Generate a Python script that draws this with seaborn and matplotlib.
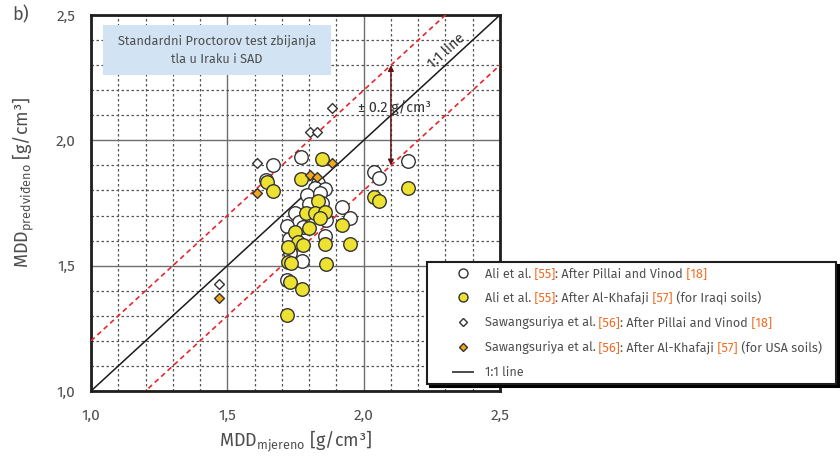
import numpy as np
import pandas as pd
import matplotlib
matplotlib.use("Agg")
import matplotlib.pyplot as plt
import seaborn as sns
from matplotlib.lines import Line2D
from matplotlib.patches import Rectangle

# Ali et al. [55] - after Pillai and Vinod [18] (open circles)
ali_pv_x = [1.667, 1.771, 2.038, 2.056, 2.162, 1.642, 1.834, 1.823, 1.859, 1.791, 1.840, 1.798, 1.848,
            1.748, 1.920, 1.950, 1.763, 1.720, 1.779, 1.862, 1.725, 1.859, 1.730, 1.775, 1.720]
ali_pv_y = [1.901, 1.932, 1.872, 1.848, 1.919, 1.842, 1.831, 1.809, 1.806, 1.782, 1.789, 1.746, 1.749,
            1.711, 1.735, 1.691, 1.675, 1.658, 1.653, 1.682, 1.606, 1.618, 1.552, 1.520, 1.443]

# Ali et al. [55] - after Al-Khafaji [57] (yellow circles)
ali_ak_x = [1.848, 1.644, 1.667, 1.771, 1.832, 1.788, 1.823, 1.859, 1.840, 1.798, 1.748, 1.760, 1.776,
            1.722, 1.859, 1.920, 1.950, 1.721, 1.735, 1.861, 1.730, 1.774, 1.718, 2.162, 2.038, 2.056]
ali_ak_y = [1.924, 1.834, 1.799, 1.844, 1.759, 1.709, 1.709, 1.715, 1.689, 1.649, 1.635, 1.596, 1.581,
            1.576, 1.586, 1.662, 1.585, 1.513, 1.509, 1.507, 1.436, 1.407, 1.302, 1.811, 1.773, 1.758]

# Sawangsuriya et al. [56] (diamonds)
saw_pv_x = [1.884, 1.803, 1.829, 1.609, 1.468]
saw_pv_y = [2.129, 2.033, 2.033, 1.909, 1.427]
saw_ak_x = [1.884, 1.803, 1.829, 1.609, 1.469]
saw_ak_y = [1.909, 1.862, 1.854, 1.790, 1.371]

ticks = [1.0, 1.5, 2.0, 2.5]
tick_labels = ["1,0", "1,5", "2,0", "2,5"]
band = 0.2

legend_parts = [
    [("Ali et al.", None), (" [55]", "o"), (": After Pillai and Vinod", None), (" [18]", "o")],
    [("Ali et al.", None), (" [55]", "o"), (": After Al-Khafaji", None), (" [57]", "o"), (" (for Iraqi soils)", None)],
    [("Sawangsuriya et al.", None), (" [56]", "o"), (": After Pillai and Vinod", None), (" [18]", "o")],
    [("Sawangsuriya et al.", None), (" [56]", "o"), (": After Al-Khafaji", None), (" [57]", "o"), (" (for USA soils)", None)],
    [("1:1 line", None)],
]

sns.set_style("white")
plt.rcParams["font.family"] = ["Fira Sans", "DejaVu Sans"]
plt.rcParams["mathtext.fontset"] = "custom"
plt.rcParams["mathtext.rm"] = "Fira Sans"

TXT = "#4d4d4d"
ORANGE = "#f26b21"
YELLOW = "#ede232"
DORANGE = "#f0a81c"
EDGE = "#333333"

fig = plt.figure(figsize=(8.4, 4.61), dpi=100)
ax = fig.add_axes([91 / 840, 70 / 461, 409 / 840, 376 / 461])

df1 = pd.DataFrame({"x": ali_pv_x, "y": ali_pv_y})
df2 = pd.DataFrame({"x": ali_ak_x, "y": ali_ak_y})
df3 = pd.DataFrame({"x": saw_pv_x, "y": saw_pv_y})
df4 = pd.DataFrame({"x": saw_ak_x, "y": saw_ak_y})

sns.scatterplot(data=df1, x="x", y="y", ax=ax, marker="o", s=95, color="white",
                edgecolor=EDGE, linewidth=1.0, zorder=4, legend=False)
sns.scatterplot(data=df2, x="x", y="y", ax=ax, marker="o", s=95, color=YELLOW,
                edgecolor=EDGE, linewidth=1.0, zorder=5, legend=False)
sns.scatterplot(data=df3, x="x", y="y", ax=ax, marker="D", s=25, color="white",
                edgecolor=EDGE, linewidth=1.0, zorder=6, legend=False)
sns.scatterplot(data=df4, x="x", y="y", ax=ax, marker="D", s=25, color=DORANGE,
                edgecolor=EDGE, linewidth=1.0, zorder=6, legend=False)

diag = np.array([ticks[0], ticks[-1]])
ax.plot(diag, diag, color="#1a1a1a", lw=1.1, zorder=3)
ax.plot(diag, diag + band, color="#e8262a", lw=1.2, ls=(0, (3, 2.2)), zorder=3)
ax.plot(diag, diag - band, color="#e8262a", lw=1.2, ls=(0, (3, 2.2)), zorder=3)

ax.annotate("", xy=(2.1, 2.1 + band), xytext=(2.1, 2.1 - band),
            arrowprops=dict(arrowstyle="<|-|>", color="#5c1414", lw=1.1,
                            mutation_scale=8, shrinkA=0, shrinkB=0), zorder=7)
ax.text(1.98, 2.13, "± 0.2 g/cm³", fontsize=10.3, color="#333333", va="center", ha="left", zorder=7)
ax.text(2.322, 2.334, "1:1 line", fontsize=10.3, color="#333333", rotation=45,
        transform_rotates_text=True, rotation_mode="anchor", ha="center", va="bottom", zorder=7)

ax.add_patch(Rectangle((1.045, 2.26), 0.835, 0.20, facecolor="#d2e4f3", edgecolor="none", zorder=2))
ax.text(1.462, 2.36, "Standardni Proctorov test zbijanja\ntla u Iraku i SAD", fontsize=9.2,
        color=TXT, ha="center", va="center", linespacing=1.7, zorder=3)

ax.set_xlim(ticks[0], ticks[-1])
ax.set_ylim(ticks[0], ticks[-1])
ax.set_xticks(ticks)
ax.set_xticklabels(tick_labels)
ax.set_yticks(ticks)
ax.set_yticklabels(tick_labels)
minor = np.round(np.arange(1.1, 2.5, 0.1), 2)
ax.set_xticks(minor, minor=True)
ax.set_yticks(minor, minor=True)
ax.tick_params(which="both", length=0, labelsize=11, labelcolor=TXT)
ax.tick_params(axis="x", pad=13)
ax.tick_params(axis="y", pad=11)
ax.grid(which="major", color="#6e6e6e", lw=1.0, ls="-", zorder=1)
ax.grid(which="minor", color="#555555", lw=0.9, ls=(0, (2, 2)), zorder=1)
ax.set_axisbelow(True)
for sp in ax.spines.values():
    sp.set_linewidth(2.0)
    sp.set_color("#1e1e1e")

ax.set_xlabel("MDD$_{\\mathregular{mjereno}}$ [g/cm³]", fontsize=13, color=TXT, labelpad=4)
ax.set_ylabel("MDD$_{\\mathregular{predviđeno}}$ [g/cm³]", fontsize=13, color=TXT)
ax.yaxis.set_label_coords(-0.135, 0.555)
fig.text(12 / 840, 1 - 15 / 461, "b)", fontsize=13, color=TXT, ha="left", va="center")

handles = [
    Line2D([], [], ls="none", marker="o", ms=6.5, mfc="white", mec=EDGE, mew=1.0),
    Line2D([], [], ls="none", marker="o", ms=6.5, mfc=YELLOW, mec=EDGE, mew=1.0),
    Line2D([], [], ls="none", marker="D", ms=4.0, mfc="white", mec=EDGE, mew=1.0),
    Line2D([], [], ls="none", marker="D", ms=4.0, mfc=DORANGE, mec=EDGE, mew=1.0),
    Line2D([], [], ls="none", marker="_", ms=16.5, mec="#1a1a1a", mew=1.1),
]
first = [parts[0][0] for parts in legend_parts]
x0, x1 = 427 / 840, 836 / 840
LFS = 9.1
leg = ax.legend(handles, first, loc="upper left", bbox_to_anchor=(x0, 1 - 262 / 461, x1 - x0, 0.0),
                bbox_transform=fig.transFigure, mode="expand", fontsize=LFS, frameon=True,
                fancybox=False, shadow={"color": "black", "alpha": 1}, borderaxespad=0,
                borderpad=0.45, handlelength=4.8, handletextpad=-0.7, labelspacing=0.94)
leg.get_frame().set_edgecolor("#1e1e1e")
leg.get_frame().set_linewidth(1.5)
leg.set_zorder(8)
for txt, parts in zip(leg.get_texts(), legend_parts):
    txt.set_color(TXT)
    prev = txt
    for s, c in parts[1:]:
        prev = ax.annotate(s, xy=(1, 0), xycoords=prev, va="bottom", ha="left", fontsize=LFS,
                           color=ORANGE if c else TXT, annotation_clip=False, zorder=9)

fig.savefig("out.png", dpi=100)
